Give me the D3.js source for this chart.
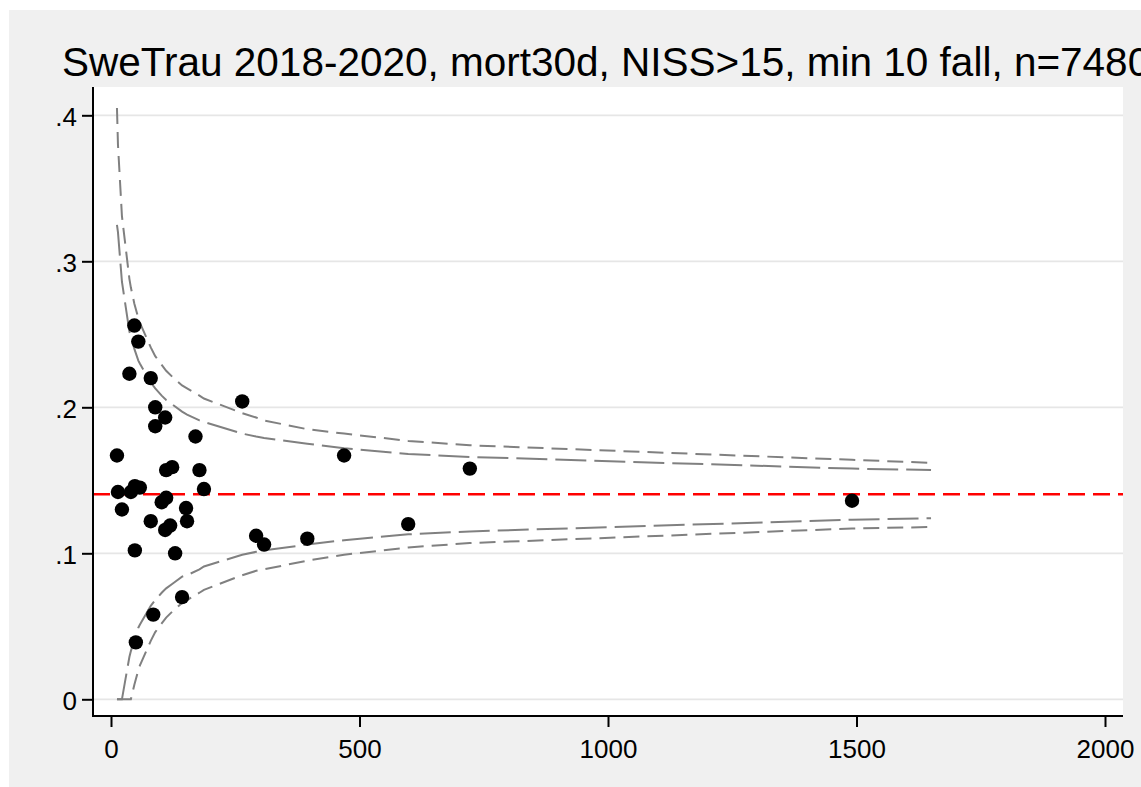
<!DOCTYPE html>
<html>
<head>
<meta charset="utf-8">
<script src="https://cdn.jsdelivr.net/npm/d3@7"></script>
<style>
  html, body { margin: 0; padding: 0; background: #ffffff; }
  svg { display: block; }
  text { font-family: "Liberation Sans", Arial, sans-serif; fill: #000; }
</style>
</head>
<body>
<svg id="chart" width="1141" height="787"></svg>
<script>
// Hospitals: number of cases and 30-day mortality
const hospN = [47, 55, 37, 80, 89, 109, 89, 170, 264, 12,
               111, 123, 178, 187, 14, 40, 48, 58, 102, 111,
               22, 151, 80, 109, 119, 153, 48, 129, 292, 308,
               395, 143, 85, 50, 469, 722, 598, 1491];
const hospRate = [0.256, 0.245, 0.223, 0.220, 0.200, 0.193, 0.187, 0.180, 0.204, 0.167,
                  0.157, 0.159, 0.157, 0.144, 0.142, 0.142, 0.146, 0.145, 0.135, 0.138,
                  0.130, 0.131, 0.122, 0.116, 0.119, 0.122, 0.102, 0.100, 0.112, 0.106,
                  0.110, 0.070, 0.058, 0.039, 0.167, 0.158, 0.120, 0.136];

// Overall mortality
const overallRate = 0.1404;

// Control limits (95% and 99%) evaluated at the hospital sizes
const limitN  = [12, 14, 22, 37, 40, 47, 55, 58, 80, 89, 102, 111, 123, 143, 153, 178, 187,
                 264, 292, 308, 395, 469, 598, 722, 1491, 1650];
const upper99 = [0.405, 0.380, 0.331, 0.288, 0.282, 0.271, 0.261, 0.258, 0.241, 0.235, 0.229, 0.225, 0.221,
                 0.215, 0.213, 0.208, 0.206, 0.196, 0.193, 0.191, 0.185, 0.182, 0.177, 0.174, 0.164, 0.162];
const upper95 = [0.325, 0.320, 0.286, 0.252, 0.248, 0.240, 0.232, 0.230, 0.217, 0.213, 0.208, 0.205, 0.202,
                 0.197, 0.195, 0.191, 0.190, 0.182, 0.180, 0.179, 0.175, 0.172, 0.168, 0.166, 0.158, 0.157];
const lower95 = [0, 0, 0, 0.029, 0.033, 0.041, 0.049, 0.051, 0.064, 0.068, 0.073, 0.076, 0.079,
                 0.084, 0.085, 0.089, 0.091, 0.099, 0.101, 0.102, 0.106, 0.109, 0.113, 0.115, 0.123, 0.124];
const lower99 = [0, 0, 0, 0, 0, 0.010, 0.020, 0.023, 0.040, 0.046, 0.052, 0.056, 0.060,
                 0.066, 0.068, 0.073, 0.075, 0.085, 0.088, 0.089, 0.095, 0.099, 0.104, 0.107, 0.117, 0.118];

const xTicks = [0, 500, 1000, 1500, 2000];
const yTicks = [0, 0.1, 0.2, 0.3, 0.4];
const yTickLabels = ["0", ".1", ".2", ".3", ".4"];
const titleText = "SweTrau 2018-2020, mort30d, NISS>15, min 10 fall, n=7480";

const svg = d3.select("#chart");
const W = 1141, H = 787;

// graph region and plot region
const plot = { left: 93, right: 1123, top: 87, bottom: 716 };

svg.append("rect").attr("x", 9).attr("y", 10)
   .attr("width", W - 9).attr("height", H - 10).attr("fill", "#f0f0f0");
svg.append("rect").attr("x", plot.left).attr("y", plot.top)
   .attr("width", plot.right - plot.left).attr("height", plot.bottom - plot.top)
   .attr("fill", "#ffffff");

const x = d3.scaleLinear().domain([0, 2000]).range([111, 1105]);
const y = d3.scaleLinear().domain([0, 0.4]).range([699.3, 115.3]);

// horizontal grid
svg.append("g").selectAll("line").data(yTicks).join("line")
   .attr("x1", plot.left).attr("x2", plot.right)
   .attr("y1", d => y(d)).attr("y2", d => y(d))
   .attr("stroke", "#e6e6e6").attr("stroke-width", 1.8);

// funnel limits
const limitLine = arr => d3.line()
   .x((d, i) => x(limitN[i]))
   .y((d, i) => y(arr[i]))(limitN);

const limits = [
  { values: upper99, dash: "16 8" },
  { values: lower99, dash: "16 8" },
  { values: upper95, dash: "31 8" },
  { values: lower95, dash: "31 8" }
];
svg.append("g").selectAll("path").data(limits).join("path")
   .attr("d", d => limitLine(d.values))
   .attr("fill", "none")
   .attr("stroke", "#808080")
   .attr("stroke-width", 2)
   .attr("stroke-dasharray", d => d.dash);

// overall rate
svg.append("line")
   .attr("x1", plot.left).attr("x2", plot.right)
   .attr("y1", y(overallRate)).attr("y2", y(overallRate))
   .attr("stroke", "#ff0000").attr("stroke-width", 2.5)
   .attr("stroke-dasharray", "17 8");

// hospitals
svg.append("g").selectAll("circle").data(hospN).join("circle")
   .attr("cx", d => x(d))
   .attr("cy", (d, i) => y(hospRate[i]))
   .attr("r", 7.2)
   .attr("fill", "#000");

// axes
const xAxis = d3.axisBottom(x).tickValues(xTicks).tickSize(11).tickPadding(12.5)
   .tickFormat(d3.format("d"));
const gx = svg.append("g").attr("transform", `translate(0,${plot.bottom})`).call(xAxis);
gx.select(".domain").remove();
gx.selectAll(".tick line").attr("stroke", "#000").attr("stroke-width", 2);
gx.selectAll(".tick text").attr("font-size", 26)
   .attr("font-family", "Liberation Sans, Arial, sans-serif");

const yAxis = d3.axisLeft(y).tickValues(yTicks).tickSize(11).tickPadding(5)
   .tickFormat((d, i) => yTickLabels[i]);
const gy = svg.append("g").attr("transform", `translate(${plot.left},1.5)`).call(yAxis);
gy.select(".domain").remove();
gy.selectAll(".tick line").attr("stroke", "#000").attr("stroke-width", 2)
   .attr("transform", "translate(0,-1.5)");
gy.selectAll(".tick text").attr("font-size", 26)
   .attr("font-family", "Liberation Sans, Arial, sans-serif");

svg.append("line").attr("x1", plot.left).attr("x2", plot.left)
   .attr("y1", plot.top).attr("y2", plot.bottom + 1)
   .attr("stroke", "#000").attr("stroke-width", 2);
svg.append("line").attr("x1", plot.left - 1).attr("x2", plot.right)
   .attr("y1", plot.bottom).attr("y2", plot.bottom)
   .attr("stroke", "#000").attr("stroke-width", 2);

// title
svg.append("text")
   .attr("x", 62).attr("y", 76)
   .attr("font-size", 40.5)
   .text(titleText);
</script>
</body>
</html>
